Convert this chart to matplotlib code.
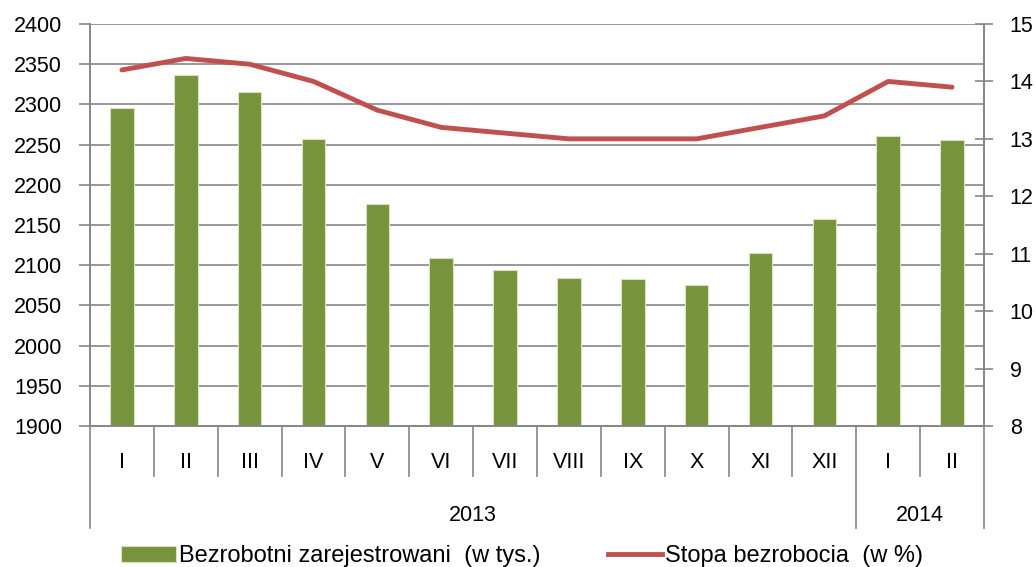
import matplotlib
matplotlib.use("Agg")
import matplotlib.pyplot as plt
from matplotlib.lines import Line2D
from matplotlib.patches import Patch

months = ["I", "II", "III", "IV", "V", "VI", "VII", "VIII", "IX", "X", "XI", "XII", "I", "II"]
years = ["2013", "2014"]
year_counts = [12, 2]
unemployed = [2295.7, 2336.7, 2315.3, 2256.6, 2176.6, 2109.0, 2093.5, 2083.9, 2083.2,
              2075.9, 2115.6, 2157.9, 2260.7, 2256.0]
rate = [14.2, 14.4, 14.3, 14.0, 13.5, 13.2, 13.1, 13.0, 13.0, 13.0, 13.2, 13.4, 14.0, 13.9]
left_ticks = list(range(1900, 2401, 50))
right_ticks = list(range(8, 16))

plt.rcParams['font.family'] = ['Liberation Sans', 'DejaVu Sans']
FS = 15.5
LFS = 17
GRID = '#868686'
GREEN = '#77933C'
RED = '#C0504D'

fig = plt.figure(figsize=(10.36, 5.67), dpi=100)
ax = fig.add_axes([90/1036, 1-426/567, (984-90)/1036, (426-24)/567])
x = list(range(len(months)))
ax.bar(x, [v - 1900 for v in unemployed], bottom=1900, width=0.37, color=GREEN,
       edgecolor='#d7e4bd', linewidth=0.8, zorder=3)
ax.set_ylim(1900, 2400)
ax.set_xlim(-0.5, len(months) - 0.5)
ax.set_yticks(left_ticks)
ax.yaxis.grid(True, color=GRID, linewidth=1.2, zorder=0)
ax.set_axisbelow(True)
ax.set_xticks([])
ax.tick_params(axis='y', direction='out', length=8, width=1.2, color=GRID, labelsize=FS, pad=12)
ax.spines['top'].set_visible(False)
for s in ['left', 'bottom', 'right']:
    ax.spines[s].set_color(GRID)
    ax.spines[s].set_linewidth(1.2)

ax2 = ax.twinx()
ax2.plot(x, rate, color=RED, linewidth=3.5, solid_capstyle='round', zorder=4)
ax2.set_ylim(8, 15)
ax2.set_yticks(right_ticks)
ax2.tick_params(axis='y', direction='inout', length=13, width=1.2, color=GRID, labelsize=FS, pad=12)
ax2.spines['top'].set_visible(False)
for s in ['left', 'bottom', 'right']:
    ax2.spines[s].set_color(GRID)
    ax2.spines[s].set_linewidth(1.2)

tr = ax.get_xaxis_transform()
month_y = -0.0896
year_y = -0.222
short_b = -0.124
long_b = -0.254
for i, m in enumerate(months):
    ax.text(i, month_y, m, transform=tr, ha='center', va='center', fontsize=FS)
boundaries = [-0.5]
acc = -0.5
for c in year_counts:
    acc += c
    boundaries.append(acc)
for i in range(len(months) + 1):
    b = i - 0.5
    bottom = long_b if b in boundaries else short_b
    ax.plot([b, b], [0, bottom], transform=tr, color=GRID, linewidth=1.2, clip_on=False)
start = -0.5
for yname, c in zip(years, year_counts):
    ax.text(start + c / 2, year_y, yname, transform=tr, ha='center', va='center', fontsize=FS)
    start += c

handles = [Patch(facecolor=GREEN, edgecolor='#d7e4bd', linewidth=0.8),
           Line2D([0], [0], color=RED, linewidth=3.5)]
labels = ["Bezrobotni zarejestrowani  (w tys.)", "Stopa bezrobocia  (w %)"]
fig.legend(handles, labels, loc='center', bbox_to_anchor=(0.504, 1 - 556/567), ncol=2,
           frameon=False, fontsize=LFS, handlelength=2.3, handleheight=0.68,
           handletextpad=0.13, columnspacing=2.85, borderpad=0, borderaxespad=0)

fig.savefig("out.png", dpi=100)
